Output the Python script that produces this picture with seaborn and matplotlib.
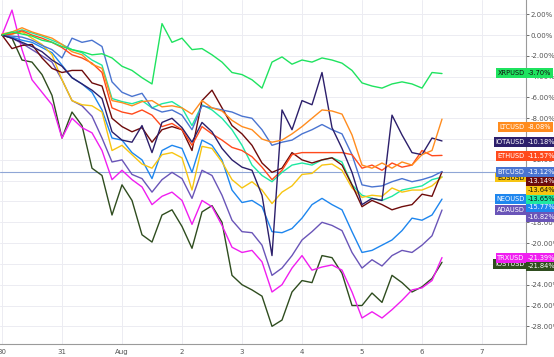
import pandas as pd
import numpy as np
import matplotlib
matplotlib.use('Agg')
import matplotlib.pyplot as plt
import seaborn as sns

# percent change since Jul 30, 4-hour samples
XRP = [0.0, 0.3, 0.1, -0.1, -0.5, -0.7, -1.1, -1.4, -1.6, -1.9, -1.8, -2.2, -3.0, -3.4, -4.1,
       -4.7, 1.1, -0.7, -0.3, -1.4, -1.3, -1.9, -2.6, -3.6, -3.8, -4.3, -5.1, -2.6, -2.1, -2.8,
       -2.4, -2.6, -2.2, -2.4, -2.7, -3.4, -4.6, -4.9, -5.1, -4.7, -4.5, -4.7, -5.1, -3.6, -3.70]
LTC = [0.1, 0.3, 0.7, 0.3, 0.0, -0.3, -0.9, -1.6, -1.9, -2.8, -3.2, -6.3, -6.5, -6.8, -6.4,
       -6.3, -6.9, -6.8, -7.0, -7.6, -6.3, -7.0, -7.3, -8.2, -8.8, -9.1, -10.0, -10.3, -10.1, -9.5,
       -8.8, -8.0, -7.2, -7.3, -7.6, -9.6, -12.5, -12.8, -12.3, -12.8, -12.2, -12.5, -11.5, -11.1, -8.08]
IOTA = [0.0, -0.3, -0.7, -1.1, -1.6, -2.4, -3.0, -4.1, -4.7, -5.3, -6.1, -9.3, -10.1, -10.3, -8.7,
        -11.3, -8.4, -8.0, -8.9, -10.3, -8.4, -9.3, -10.9, -12.0, -12.7, -13.0, -15.4, -21.2, -7.2, -9.1,
        -6.3, -6.7, -3.6, -8.9, -10.9, -13.2, -16.3, -15.7, -15.9, -7.7, -9.6, -11.3, -11.5, -9.9, -10.18]
ETH = [0.0, 0.1, 0.4, 0.0, -0.3, -0.7, -1.2, -1.9, -2.2, -2.7, -3.6, -7.0, -7.4, -7.6, -7.2,
       -7.7, -8.8, -8.5, -9.1, -10.6, -8.8, -9.5, -10.1, -10.8, -11.1, -11.7, -12.7, -13.9, -13.0, -11.5,
       -11.3, -11.3, -11.3, -11.3, -11.3, -11.5, -12.8, -12.5, -13.0, -12.3, -12.7, -12.5, -11.1, -11.6, -11.57]
BTC = [0.0, -0.1, -0.2, -0.5, -1.0, -1.4, -2.2, -0.3, -0.7, -0.5, -1.1, -4.5, -5.5, -5.9, -5.6,
       -7.0, -7.4, -7.2, -7.7, -9.1, -6.8, -7.0, -7.2, -7.4, -7.8, -8.0, -9.1, -10.6, -10.3, -10.1,
       -9.5, -9.1, -8.6, -9.1, -9.5, -11.5, -14.4, -14.6, -14.5, -14.1, -13.8, -14.1, -13.9, -13.6, -13.12]
XMR = [0.0, -1.3, -1.0, -0.9, -2.2, -3.2, -3.6, -3.4, -3.4, -4.6, -4.9, -8.0, -8.8, -9.3, -8.9,
       -10.3, -9.1, -8.8, -9.1, -11.1, -6.3, -5.3, -7.0, -8.7, -9.5, -10.6, -12.3, -13.2, -12.8, -11.3,
       -12.0, -12.3, -12.0, -11.8, -12.5, -14.4, -16.5, -15.9, -16.3, -16.8, -16.5, -16.3, -15.3, -15.5, -13.14]
EOS = [0.0, 0.1, 0.3, -0.3, -0.9, -1.9, -4.3, -6.3, -6.7, -6.8, -7.4, -11.1, -10.6, -11.5, -12.4,
       -12.8, -11.5, -11.3, -11.8, -14.9, -10.7, -10.9, -12.2, -13.9, -14.7, -14.1, -14.9, -16.2, -15.1, -14.5,
       -13.4, -13.3, -12.5, -12.4, -13.0, -14.7, -15.6, -15.4, -15.5, -14.7, -15.1, -14.9, -14.9, -14.5, -13.64]
DASH = [0.0, 0.2, 0.5, 0.2, -0.1, -0.5, -0.9, -1.4, -1.7, -2.4, -2.9, -6.1, -6.4, -6.6, -6.3,
        -7.0, -6.6, -6.4, -7.0, -8.7, -6.7, -7.2, -8.0, -9.1, -10.6, -12.5, -13.5, -14.1, -13.2, -12.5,
        -12.3, -12.5, -12.0, -11.8, -12.2, -14.4, -15.4, -15.7, -15.9, -15.5, -14.9, -14.7, -14.5, -13.9, -13.65]
NEO = [0.0, -0.2, -0.5, -0.7, -1.2, -1.7, -2.9, -4.1, -4.7, -5.5, -7.2, -9.9, -10.1, -11.3, -12.0,
       -13.8, -11.1, -10.6, -10.9, -13.2, -10.1, -10.6, -12.0, -14.9, -16.1, -15.9, -16.5, -18.9, -19.0, -18.6,
       -17.6, -16.3, -15.7, -16.3, -16.8, -18.9, -20.9, -20.7, -20.2, -19.7, -18.8, -17.6, -17.8, -17.3, -15.77]
ADA = [0.0, -0.3, -0.8, -1.4, -2.0, -2.6, -4.3, -6.3, -6.8, -7.8, -9.9, -12.2, -12.0, -13.4, -13.8,
       -15.1, -13.9, -13.2, -13.8, -15.7, -13.0, -13.5, -15.4, -17.8, -18.9, -19.0, -20.2, -23.1, -22.4, -21.2,
       -19.7, -18.9, -18.0, -18.3, -18.8, -20.9, -22.4, -21.6, -22.2, -21.2, -20.7, -20.9, -20.2, -19.3, -16.82]
TRX = [0.0, 2.4, -1.4, -4.3, -5.5, -6.7, -9.9, -8.0, -8.9, -9.4, -11.1, -13.9, -13.0, -13.9, -14.6,
       -16.3, -15.5, -15.1, -15.9, -18.2, -15.9, -16.5, -18.3, -20.4, -20.9, -20.7, -21.8, -24.7, -24.0, -22.4,
       -21.2, -22.6, -22.3, -22.1, -22.6, -24.7, -27.2, -26.6, -27.2, -26.4, -25.5, -24.5, -24.3, -23.6, -21.39]
IOST = [0.0, -0.3, -2.4, -2.6, -3.8, -5.8, -9.9, -7.4, -8.7, -12.8, -13.5, -17.3, -14.4, -15.9, -19.2,
        -19.9, -17.3, -16.8, -18.4, -20.5, -17.0, -16.4, -18.0, -23.1, -24.0, -24.5, -25.1, -28.0, -27.4, -24.7,
        -23.6, -23.8, -21.2, -21.4, -22.9, -26.0, -26.0, -24.8, -25.7, -23.1, -23.8, -24.7, -24.2, -23.4, -21.84]

series = {'IOSTUSD': IOST, 'TRXUSD': TRX, 'ADAUSD': ADA, 'NEOUSD': NEO, 'DASHUSD': DASH,
          'EOSUSD': EOS, 'XMRUSD': XMR, 'BTCUSD': BTC, 'ETHUSD': ETH, 'IOTAUSD': IOTA,
          'LTCUSD': LTC, 'XRPUSD': XRP}
colors = {'XRPUSD': '#1fe35f', 'LTCUSD': '#ff8c1e', 'IOTAUSD': '#2c1f6b', 'ETHUSD': '#ff4a1c',
          'BTCUSD': '#4a74d0', 'XMRUSD': '#6e0b0b', 'EOSUSD': '#f7c512', 'DASHUSD': '#1ee8a2',
          'NEOUSD': '#1e86ee', 'ADAUSD': '#6a55b8', 'TRXUSD': '#f01ef0', 'IOSTUSD': '#2f4d1f'}
dark_text = ['XRPUSD', 'EOSUSD', 'DASHUSD']

x_tick_labels = ['30', '31', 'Aug', '2', '3', '4', '5', '6', '7']
y_ticks = list(range(2, -30, -2))

times = pd.date_range('2018-07-30', periods=len(XRP), freq='4h')
df = pd.concat([pd.DataFrame({'time': times, 'pct': v, 'coin': k}) for k, v in series.items()])

sns.set_style('white')
fig = plt.figure(figsize=(5.54, 3.57), dpi=100)
ax = fig.add_axes([0, 13 / 357, 526 / 554, 344 / 357])

sns.lineplot(data=df, x='time', y='pct', hue='coin', palette=colors, hue_order=list(series),
             estimator=None, linewidth=1.0, legend=False, ax=ax)

t0 = pd.Timestamp('2018-07-30')
ax.set_xlim(t0 - pd.Timedelta(hours=0.8), t0 + pd.Timedelta(hours=209.6))
ax.set_ylim(-29.7, 3.37)

# last-price line for BTC
ax.axhline(BTC[-1], color='#8fa6d6', lw=0.8, zorder=1)

ticks = pd.date_range('2018-07-30', periods=len(x_tick_labels), freq='D')
ax.set_xticks(ticks)
ax.set_xticklabels(x_tick_labels)
ax.set_yticks(y_ticks)
ax.set_yticklabels([f'{v:.2f}%' for v in y_ticks])
ax.yaxis.tick_right()
ax.tick_params(axis='both', labelsize=5, colors='#555555', length=2, width=0.6, pad=1.5)
ax.grid(True, color='#ececf2', lw=0.7)
ax.set_xlabel('')
ax.set_ylabel('')
for s in ['left', 'top']:
    ax.spines[s].set_visible(False)
for s in ['right', 'bottom']:
    ax.spines[s].set_color('#9a9a9a')
    ax.spines[s].set_linewidth(0.8)

# tag positions (stacked so they don't overlap)
name_pos = {'XRPUSD': -3.65, 'LTCUSD': -8.85, 'IOTAUSD': -10.29, 'ETHUSD': -11.63,
            'EOSUSD': -13.7, 'BTCUSD': -13.17, 'NEOUSD': -15.77, 'ADAUSD': -16.83,
            'IOSTUSD': -22.0, 'TRXUSD': -21.44}
value_pos = {'XRPUSD': -3.65, 'LTCUSD': -8.85, 'IOTAUSD': -10.29, 'ETHUSD': -11.63,
             'BTCUSD': -13.17, 'XMRUSD': -14.04, 'EOSUSD': -14.9, 'DASHUSD': -15.77,
             'NEOUSD': -16.54, 'ADAUSD': -17.5, 'TRXUSD': -21.4, 'IOSTUSD': -22.2}
tr = ax.get_yaxis_transform()
for coin in ['IOSTUSD', 'TRXUSD', 'ADAUSD', 'NEOUSD', 'EOSUSD', 'BTCUSD', 'ETHUSD', 'IOTAUSD',
             'LTCUSD', 'XRPUSD']:
    tc = '#111111' if coin in dark_text else 'white'
    ax.text(0.997, name_pos[coin], coin, transform=tr, ha='right', va='center', fontsize=4.8,
            color=tc, bbox=dict(boxstyle='square,pad=0.25', fc=colors[coin], ec='none'), zorder=5)
for coin, vals in series.items():
    tc = '#111111' if coin in dark_text else 'white'
    ax.text(1.004, value_pos[coin], f'{vals[-1]:.2f}%', transform=tr, ha='left', va='center',
            fontsize=4.8, color=tc, clip_on=False,
            bbox=dict(boxstyle='square,pad=0.25', fc=colors[coin], ec='none'), zorder=5)

fig.savefig('out.png', dpi=100)
plt.close(fig)
